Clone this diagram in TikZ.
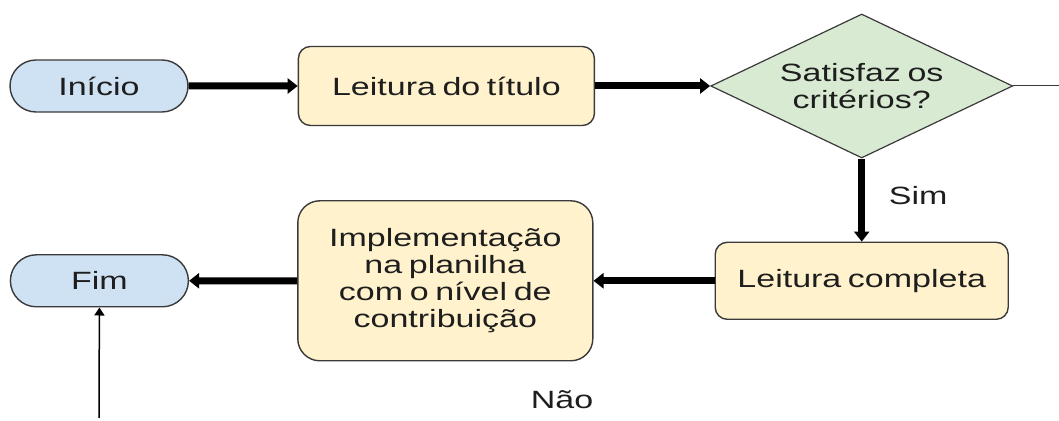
\documentclass[tikz,border=0pt]{standalone}
\usepackage{fontspec}
\setmainfont{Liberation Sans}[FakeStretch=1.36, WordSpace=0.7]
\usepackage{tikz}
\usetikzlibrary{positioning}
\usetikzlibrary{arrows.meta}
\usetikzlibrary{shapes.geometric,shapes.misc}

\definecolor{terminalBlue}{HTML}{CFE2F3}
\definecolor{processYellow}{HTML}{FFF2CC}
\definecolor{decisionGreen}{HTML}{D9EAD3}
\definecolor{borderGray}{HTML}{3A3A3A}
\definecolor{textGray}{HTML}{1E1E1E}

\tikzset{
	flowtext/.style={font=\fontsize{12.5}{13.5}\selectfont, text=textGray, align=center},
	terminal/.style={flowtext, rounded rectangle, draw=borderGray, line width=0.7pt,
		fill=terminalBlue, minimum width=89pt, minimum height=26pt, inner sep=0pt},
	process/.style={flowtext, rectangle, rounded corners=6pt, draw=borderGray, line width=0.7pt,
		fill=processYellow, inner sep=0pt},
	decision/.style={flowtext, diamond, aspect=2.1, draw=borderGray, line width=0.6pt,
		fill=decisionGreen, inner sep=0pt, minimum width=151pt, minimum height=72pt},
	flowarrow/.style={line width=3.5pt, -{Triangle[length=5pt,width=7.5pt]}},
	thinarrow/.style={line width=0.75pt, -{Triangle[length=4pt,width=5pt]}},
}

\begin{document}
\begin{tikzpicture}[x=0.5pt, y=-0.5pt]
	
	% ------------------------------------------------
	% Ensure the dimensions of graphic are appropriate
	\useasboundingbox (0,0) rectangle (1059,421);
	
	% ------------------------------------------------
	% Upper row
	\node[terminal] (inicio) at (99,86) {Início};
	\node[process, right=54.5pt of inicio, minimum width=148pt, minimum height=39.5pt] (leituraTitulo) {Leitura do título};
	\node[decision, right=57.5pt of leituraTitulo] (criterios) {Satisfaz os\\critérios?};
	
	% ------------------------------------------------
	% Lower row
	\node[process, below=41.5pt of criterios, minimum width=146.5pt, minimum height=38.5pt] (leituraCompleta) {Leitura completa};
	\node[process, left=60.5pt of leituraCompleta, rounded corners=11pt, minimum width=147.5pt, minimum height=80pt] (implementacao) {Implementação\\na planilha\\com o nível de\\contribuição};
	\node[terminal, left=54pt of implementacao] (fim) {Fim};
	
	\node[flowtext] (nao) at (562,400) {Não};
	
	% ----------------
	% Free ends
	\coordinate (criteriosSaida) at (1059,86);
	\coordinate (fimEntrada) at (99,418);
	
	%%%%%%%%%%%%%%%%%%%%%%%%%%%%%%%%%%%%%%%%%
	% Connectors
	\draw[flowarrow] (inicio) -- (leituraTitulo);
	\draw[flowarrow] (leituraTitulo) -- (criterios);
	\draw[flowarrow] (criterios) -- node[flowtext, pos=0.45, right=8.5pt] (sim) {Sim} (leituraCompleta);
	\draw[flowarrow] (leituraCompleta) -- (implementacao);
	\draw[flowarrow] (implementacao) -- (fim);
	
	\draw[line width=0.5pt, draw=borderGray] (criterios.east) -- (criteriosSaida);
	\draw[thinarrow] (fimEntrada) -- (fim.south);
	
\end{tikzpicture}
\end{document}
